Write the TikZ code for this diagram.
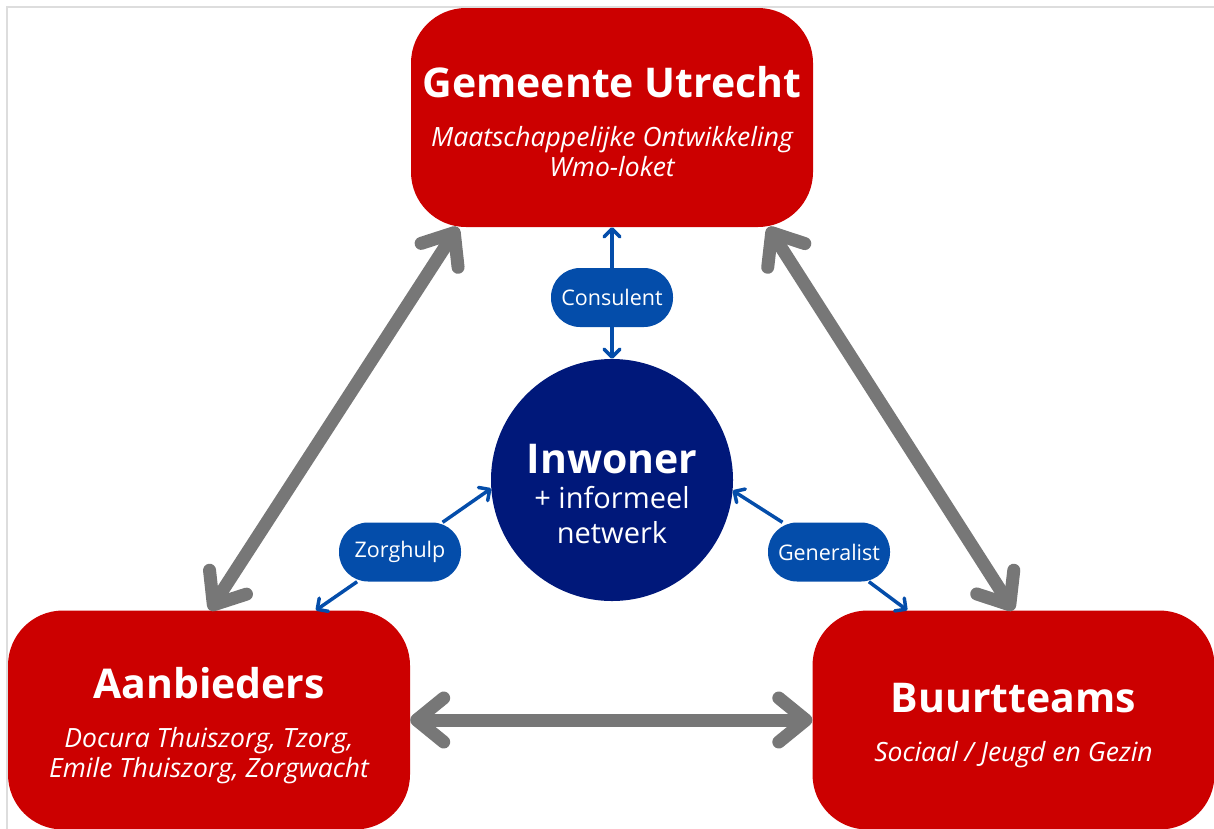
\documentclass[tikz,border=0pt]{standalone}
\usepackage{fontspec}
\setmainfont{Open Sans}
\usetikzlibrary{arrows.meta,calc}
\definecolor{boxred}{HTML}{CC0000}
\definecolor{navy}{HTML}{00187A}
\definecolor{pillblue}{HTML}{044DAA}
\definecolor{arrowgray}{HTML}{777777}
\definecolor{framegray}{HTML}{DDDDDD}
\begin{document}
\begin{tikzpicture}[x=1pt,y=-1pt,
  redbox/.style={fill=boxred, rounded corners=55pt, inner sep=0pt,
    minimum width=402pt, minimum height=219pt},
  boxtext/.style={text=white, align=center, inner sep=0pt,
    font=\fontsize{26.5}{30}\selectfont\itshape},
  titlefont/.style={font=\fontsize{41}{48}\selectfont\bfseries\upshape},
  pill/.style={fill=pillblue, rounded corners=29pt, text=white, inner sep=0pt,
    minimum width=122pt, minimum height=59pt, font=\fontsize{21.5}{25}\selectfont},
  bigarrow/.style={draw=arrowgray, line width=13pt, line cap=round,
    {Straight Barb[length=27pt,width=44pt,round]}-{Straight Barb[length=27pt,width=44pt,round]}},
  smallarrow/.style={draw=pillblue, line width=3.5pt,
    -{Straight Barb[length=8pt,width=16pt,round]}},
  frameline/.style={draw=framegray, line width=2pt}
]
\useasboundingbox (0,0) rectangle (1214,828);
\draw[frameline] (7,1214) -- (7,7) -- (1220,7);

\node[redbox] (top) at (612,117.5) {};
\node[redbox] (left) at (209,720) {};
\node[redbox] (right) at (1013.5,720) {};
\node[circle, fill=navy, minimum size=242pt, inner sep=0pt] (inw) at (612,480) {};

\node[boxtext] (toptext) at (612,122)
  {{\fontsize{41}{48}\selectfont\bfseries\upshape Gemeente Utrecht}\\[19pt]
   Maatschappelijke Ontwikkeling\\Wmo-loket};
\node[boxtext] (lefttext) at (209,726)
  {{\fontsize{41}{48}\selectfont\bfseries\upshape Aanbieders}\\[19pt]
   Docura Thuiszorg, Tzorg,\\Emile Thuiszorg, Zorgwacht};
\node[boxtext] (righttext) at (1013.5,726)
  {{\fontsize{41}{48}\selectfont\bfseries\upshape Buurtteams}\\[19pt]
   Sociaal / Jeugd en Gezin};
\node[text=white, align=center, inner sep=0pt, font=\fontsize{29}{35}\selectfont]
  (inwtext) at (612,494)
  {{\fontsize{41}{44}\selectfont\bfseries Inwoner}\\+ informeel\\netwerk};

\node[pill] (cons) at (612,297.5) {Consulent};
\node[pill] (zorg) at (400,552) {Zorghulp};
\node[pill] (gen) at (829,552) {Generalist};

\coordinate (tl) at ([xshift=47pt]top.south west);
\coordinate (tr) at ([xshift=-45pt]top.south east);
\coordinate (la) at ([xshift=202pt]left.north west);
\coordinate (rb) at ([xshift=201pt]right.north west);
\coordinate (lz) at ([xshift=308pt]left.north west);
\coordinate (rg) at ([xshift=95pt]right.north west);

\draw[bigarrow] (la) -- (tl);
\draw[bigarrow] (tr) -- (rb);
\draw[bigarrow] (left.east) -- (right.west);

\draw[smallarrow] (cons) -- (top.south);
\draw[smallarrow] (cons) -- (inw.north);
\draw[smallarrow] (zorg) -- (inw.184);
\draw[smallarrow] (zorg) -- (lz);
\draw[smallarrow] (gen) -- (inw.-5);
\draw[smallarrow] (gen) -- (rg);
\end{tikzpicture}
\end{document}
